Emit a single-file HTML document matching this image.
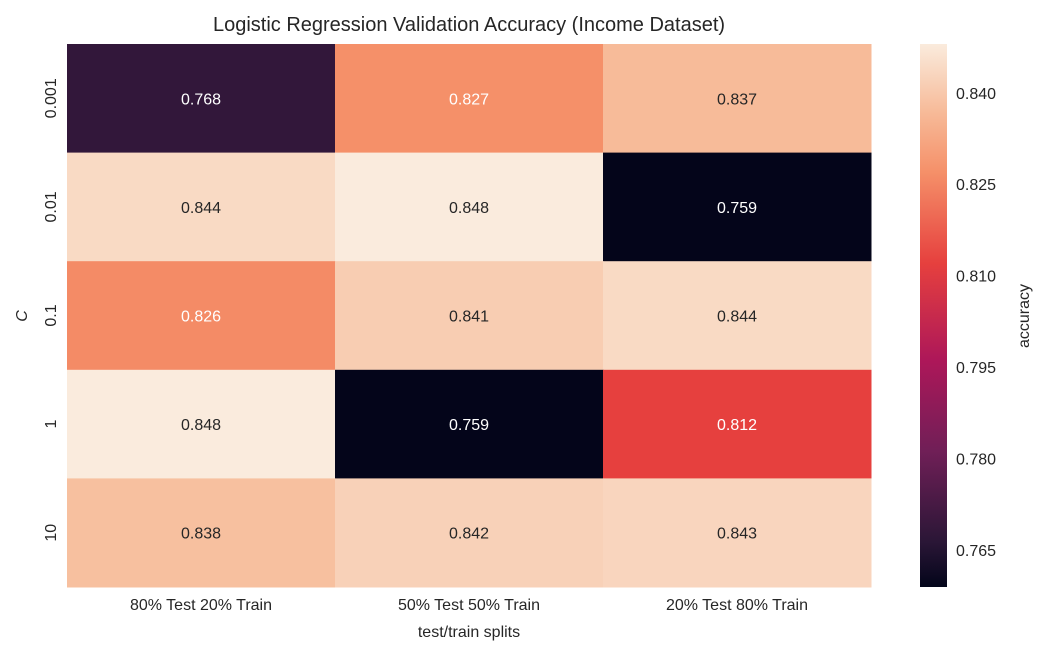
<!DOCTYPE html>
<html><head><meta charset="utf-8">
<style>
body{margin:0;background:#fff;font-family:"Liberation Sans","DejaVu Sans",sans-serif;}
svg{display:block}
text{font-family:"Liberation Sans","DejaVu Sans",sans-serif;fill:#262626}
</style></head>
<body>
<svg id="chart" width="1046" height="655">
<text x="469" y="31" font-size="20" text-anchor="middle">Logistic Regression Validation Accuracy (Income Dataset)</text>
<text x="469" y="637" font-size="16" text-anchor="middle">test/train splits</text>
<text transform="translate(27,316) rotate(-90)" font-size="16" font-style="italic" text-anchor="middle">C</text>
<text transform="translate(1029,316) rotate(-90)" font-size="16" text-anchor="middle">accuracy</text>
<defs><linearGradient id="cg" x1="0" y1="1" x2="0" y2="0"></linearGradient></defs>
<g id="cells"></g>
<g id="cbar"></g>
</svg>
<script>
const cols=["80% Test 20% Train","50% Test 50% Train","20% Test 80% Train"];
const rows=["0.001","0.01","0.1","1","10"];
const values=[[0.768,0.827,0.837],[0.844,0.848,0.759],[0.826,0.841,0.844],[0.848,0.759,0.812],[0.838,0.842,0.843]];
const cbTicks=[0.765,0.780,0.795,0.810,0.825,0.840];
const vmin=0.7589,vmax=0.848;
const stopPos=[0,0.083,0.25,0.417,0.596,0.764,0.876,1];
const stops=["#03051A","#2A1636","#701F57","#AD1759","#E6403E","#F59069","#F7BB99","#FAEBDD"];
const X0=67,X1=871,Y0=44,Y1=587;
const cw=(X1-X0)/cols.length, rh=(Y1-Y0)/rows.length;
const ns="http://www.w3.org/2000/svg";
function hex(h){return [1,3,5].map(i=>parseInt(h.substr(i,2),16));}
function color(v){let t=Math.max(0,Math.min(1,(v-vmin)/(vmax-vmin)));let i=0;while(i<stopPos.length-2&&t>stopPos[i+1])i++;const f=(t-stopPos[i])/(stopPos[i+1]-stopPos[i]);const a=hex(stops[i]),b=hex(stops[i+1]);const c=a.map((x,k)=>Math.round(x+(b[k]-x)*f));return {s:`rgb(${c})`,c};}
function lum(c){const l=c.map(x=>{x/=255;return x<=0.03928?x/12.92:Math.pow((x+0.055)/1.055,2.4)});return 0.2126*l[0]+0.7152*l[1]+0.0722*l[2];}
function yScale(v){return Y1-(v-vmin)/(vmax-vmin)*(Y1-Y0);}
const svg=document.getElementById('chart'),g=document.getElementById('cells'),cb=document.getElementById('cbar');
function mk(t,a,p){const e=document.createElementNS(ns,t);for(const k in a)e.setAttribute(k,a[k]);(p||svg).appendChild(e);return e;}
values.forEach((row,r)=>row.forEach((v,c)=>{
 const col=color(v);
 const rect=mk('rect',{x:X0+c*cw,y:Y0+r*rh,width:cw+0.5,height:rh+0.5,fill:col.s},g);
 
 
 const t=mk('text',{x:X0+(c+0.5)*cw,y:Y0+(r+0.5)*rh+6,'font-size':16,'text-anchor':'middle'},g);
 t.style.fill=lum(col.c)<0.408?'#ffffff':'#262626';
 t.textContent=v.toFixed(3);
 
 
}));
cols.forEach((n,c)=>{const t=mk('text',{x:X0+(c+0.5)*cw,y:610,'font-size':16,'text-anchor':'middle'});t.textContent=n;
 
 });
rows.forEach((n,r)=>{const y=Y0+(r+0.5)*rh;const t=mk('text',{transform:`translate(56,${y}) rotate(-90)`,'font-size':16,'text-anchor':'middle'});t.textContent=n;
 
 });
const grad=document.getElementById('cg');
stops.forEach((s,i)=>mk('stop',{offset:stopPos[i],'stop-color':s},grad));
const cr=mk('rect',{x:920,y:Y0,width:27,height:Y1-Y0,fill:'url(#cg)'},cb);


cbTicks.forEach(v=>{const y=yScale(v);const t=mk('text',{x:956,y:y+6,'font-size':16},cb);t.textContent=v.toFixed(3);
 
 });
</script>
</body></html>
